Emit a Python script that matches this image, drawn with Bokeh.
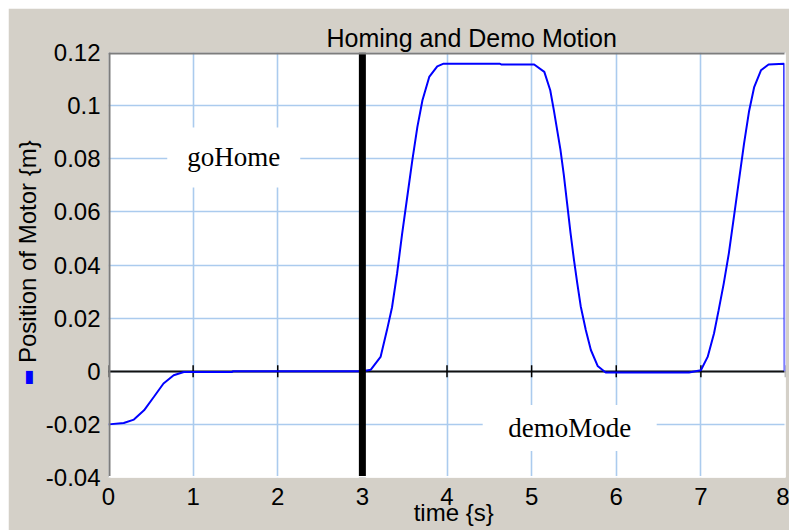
from bokeh.plotting import figure
from bokeh.models import Span, Range1d, FixedTicker, LinearAxis
from bokeh.core.properties import value
from bokeh.embed import file_html
from bokeh.resources import INLINE

# ---- data ----
time_s = [0.00, 0.18, 0.30, 0.42, 0.535, 0.65, 0.77, 0.89, 1.00, 1.46, 1.47,
          3.00, 3.10, 3.215, 3.29, 3.35, 3.41, 3.47, 3.53, 3.59, 3.65, 3.71,
          3.79, 3.885, 3.96, 4.62, 4.64, 5.03, 5.15, 5.22, 5.264, 5.34, 5.38,
          5.42, 5.46, 5.50, 5.54, 5.58, 5.64, 5.70, 5.78, 5.875, 6.86, 7.00,
          7.08, 7.155, 7.21, 7.27, 7.33, 7.39, 7.45, 7.51, 7.57, 7.63, 7.71,
          7.80, 7.985, 7.99]
position_m = [-0.0200, -0.0195, -0.0182, -0.0147, -0.0097, -0.0046, -0.0015, -0.0003, -0.0003, -0.0003, 0.0,
              0.0, 0.0006, 0.0054, 0.0154, 0.0240, 0.0368, 0.0518, 0.0656, 0.0794, 0.0920, 0.1020,
              0.1108, 0.1148, 0.1158, 0.1158, 0.1155, 0.1155, 0.1127, 0.1058, 0.0980, 0.0835, 0.0740,
              0.0630, 0.0520, 0.0420, 0.0330, 0.0245, 0.0155, 0.0080, 0.0020, -0.0005, -0.0005, 0.0004,
              0.0054, 0.0142, 0.0230, 0.0330, 0.0443, 0.0580, 0.0719, 0.0857, 0.0980, 0.1070, 0.1133,
              0.1155, 0.1158, 0.0]

x_ticks = [0, 1, 2, 3, 4, 5, 6, 7, 8]
x_tick_labels = ["0", "1", "2", "3", "4", "5", "6", "7", "8"]
y_ticks = [-0.04, -0.02, 0.0, 0.02, 0.04, 0.06, 0.08, 0.1, 0.12]
y_tick_labels = ["-0.04", "-0.02", "0", "0.02", "0.04", "0.06", "0.08", "0.1", "0.12"]

mode_switch_time = 3.0
annot_texts = ["goHome", "demoMode"]
annot_x = [1.48, 5.45]
annot_y = [0.0805, -0.0214]

title_text = "Homing and Demo Motion"
x_label = "time {s}"
y_label = "Position of Motor {m}"
legend_swatch_y = -0.00235   # where the series swatch sits beside the y label

# ---- styles ----
BG = "#d4d0c8"
GRID = "#abcbee"
FONT = "Liberation Sans"
box_w = [133, 174]
box_h = [60, 46]

p = figure(width=781, height=522, margin=(8, 0, 0, 8),
           x_range=Range1d(x_ticks[0], x_ticks[-1]),
           y_range=Range1d(y_ticks[0], y_ticks[-1]),
           output_backend="svg", toolbar_location=None,
           min_border_left=100, min_border_right=4,
           min_border_top=44, min_border_bottom=53,
           background_fill_color="white", border_fill_color=BG,
           outline_line_color=None)

p.title.text = title_text
p.title.align = "left"
p.title.offset = 218
p.title.text_font = FONT
p.title.text_font_size = "25px"
p.title.text_font_style = "normal"
p.title.text_color = "black"
p.title.standoff = 2


def style_axis(ax):
    ax.axis_line_color = None
    ax.major_tick_line_color = None
    ax.minor_tick_line_color = None
    ax.major_tick_out = 0
    ax.major_tick_in = 0
    ax.minor_tick_out = 0
    ax.minor_tick_in = 0
    ax.major_label_text_font = FONT
    ax.major_label_text_font_size = "24px"
    ax.major_label_text_color = "black"
    ax.axis_label_text_font = FONT
    ax.axis_label_text_font_size = "24px"
    ax.axis_label_text_font_style = "normal"
    ax.axis_label_text_color = "black"


xax = p.xaxis[0]
yax = p.yaxis[0]
style_axis(xax)
style_axis(yax)

xax.ticker = FixedTicker(ticks=x_ticks)
xax.major_label_overrides = {t: l for t, l in zip(x_ticks, x_tick_labels)}
xax.major_label_standoff = 10
xax.axis_label = "\u00a0\u00a0" + x_label
xax.axis_label_standoff = -9

yax.ticker = FixedTicker(ticks=y_ticks)
yax.major_label_overrides = {t: l for t, l in zip(y_ticks, y_tick_labels)}
yax.major_label_standoff = 8

# outer left axis: carries the y label and the blue series swatch
yax2 = LinearAxis(ticker=FixedTicker(ticks=[legend_swatch_y]),
                  major_label_overrides={legend_swatch_y: "\u2588"})
style_axis(yax2)
yax2.major_label_text_font = "DejaVu Sans Mono"
yax2.major_label_text_font_size = "11px"
yax2.major_label_text_color = "#0000ff"
yax2.major_label_standoff = 10
yax2.axis_label = "\u00a0" * 4 + y_label
yax2.axis_label_standoff = -18
p.add_layout(yax2, "left")

p.xgrid.ticker = FixedTicker(ticks=x_ticks)
p.ygrid.ticker = FixedTicker(ticks=y_ticks)
for g in (p.xgrid[0], p.ygrid[0]):
    g.grid_line_color = GRID
    g.grid_line_width = 1.6

# white boxes behind annotations
p.rect(x=annot_x, y=annot_y, width=box_w, height=box_h,
       width_units="screen", height_units="screen",
       fill_color="white", line_color=None)

# zero line with small ticks
p.hspan(y=[0.0], line_color="#111111", line_width=2)
p.scatter(x=x_ticks, y=[0.0] * len(x_ticks), marker="dash", angle=1.5708,
          size=12, line_color="black", line_width=1.5)

# data line
p.line(time_s, position_m, line_color="#0000ff", line_width=2)

# annotations text
p.text(x=annot_x, y=annot_y, text=annot_texts,
       text_font=value("Liberation Serif"), text_font_size="27px",
       text_align="center", text_baseline="middle", text_color="black")

# mode switch marker
p.add_layout(Span(location=mode_switch_time, dimension="height",
                  line_color="black", line_width=7))

# sunken frame edges
p.add_layout(Span(location=x_ticks[0], dimension="height", line_color="#7d7d7d", line_width=4))
p.add_layout(Span(location=y_ticks[-1], dimension="width", line_color="#7d7d7d", line_width=4))
p.add_layout(Span(location=x_ticks[-1], dimension="height", line_color="white", line_width=2))
p.add_layout(Span(location=y_ticks[0], dimension="width", line_color="white", line_width=3))

open("out.html", "w").write(file_html(p, INLINE))
